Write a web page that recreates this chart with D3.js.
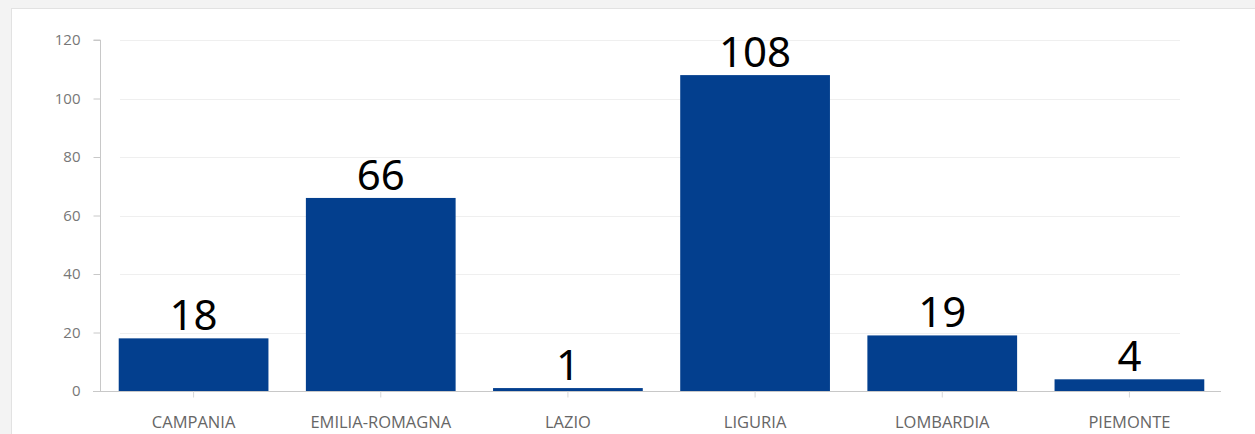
<!DOCTYPE html>
<html>
<head>
<meta charset="utf-8">
<title>Regioni</title>
<script src="https://d3js.org/d3.v7.min.js"></script>
<style>
  body { margin: 0; background: #f3f3f3; }
</style>
</head>
<body>
<script>
var regions = ["CAMPANIA", "EMILIA-ROMAGNA", "LAZIO", "LIGURIA", "LOMBARDIA", "PIEMONTE"];
var counts = [18, 66, 1, 108, 19, 4];
var yTicks = [0, 20, 40, 60, 80, 100, 120];

var width = 1255, height = 434;
var svg = d3.select("body").append("svg")
    .attr("width", width)
    .attr("height", height);

// white panel
svg.append("rect")
    .attr("x", 11.5).attr("y", 8.5)
    .attr("width", 1260).attr("height", 440)
    .attr("fill", "#fff")
    .attr("stroke", "#e2e2e2");

var x = d3.scaleBand()
    .domain(regions)
    .range([100, 1223])
    .paddingInner(0.2)
    .paddingOuter(0.1);

var y = d3.scaleLinear()
    .domain([0, 120])
    .range([391, 40]);

// grid
svg.append("g").selectAll("line")
    .data(yTicks.slice(1))
    .enter().append("line")
    .attr("x1", 120).attr("x2", 1180)
    .attr("y1", function(d) { return Math.round(y(d)) + 0.5; })
    .attr("y2", function(d) { return Math.round(y(d)) + 0.5; })
    .attr("stroke", "#efefef");

// y axis
var yAxis = svg.append("g")
    .attr("transform", "translate(100.5,0)")
    .call(d3.axisLeft(y).tickValues(yTicks).tickSize(7).tickPadding(13));
yAxis.select(".domain").attr("stroke", "#c8c8c8").attr("d", "M-7," + y(120) + "H0V" + y(0));
yAxis.selectAll(".tick line").attr("stroke", "#c8c8c8");
yAxis.selectAll("text")
    .attr("fill", "#777")
    .style("font-family", "'Open Sans', sans-serif")
    .style("font-size", "15px");

// bars
svg.append("g").selectAll("rect")
    .data(regions)
    .enter().append("rect")
    .attr("x", function(d) { return x(d); })
    .attr("y", function(d, i) { return y(counts[i]); })
    .attr("width", x.bandwidth())
    .attr("height", function(d, i) { return y(0) - y(counts[i]); })
    .attr("fill", "#033f8e");

// x axis
var xAxis = svg.append("g")
    .attr("transform", "translate(0,391.5)")
    .call(d3.axisBottom(x).tickSize(6).tickPadding(19));
xAxis.select(".domain").attr("stroke", "#c8c8c8").attr("d", "M93,0H1221");
xAxis.selectAll(".tick line").attr("stroke", "#d8d8d8");
xAxis.selectAll("text")
    .attr("fill", "#666")
    .style("font-family", "'Open Sans', sans-serif")
    .style("font-size", "16.5px");

// value labels
svg.append("g").selectAll("text")
    .data(regions)
    .enter().append("text")
    .attr("x", function(d) { return x(d) + x.bandwidth() / 2; })
    .attr("y", function(d, i) { return y(counts[i]) - 8; })
    .attr("text-anchor", "middle")
    .style("font-family", "'Noto Sans', sans-serif")
    .style("font-size", "42px")
    .attr("fill", "#000")
    .text(function(d, i) { return counts[i]; });
</script>
</body>
</html>
